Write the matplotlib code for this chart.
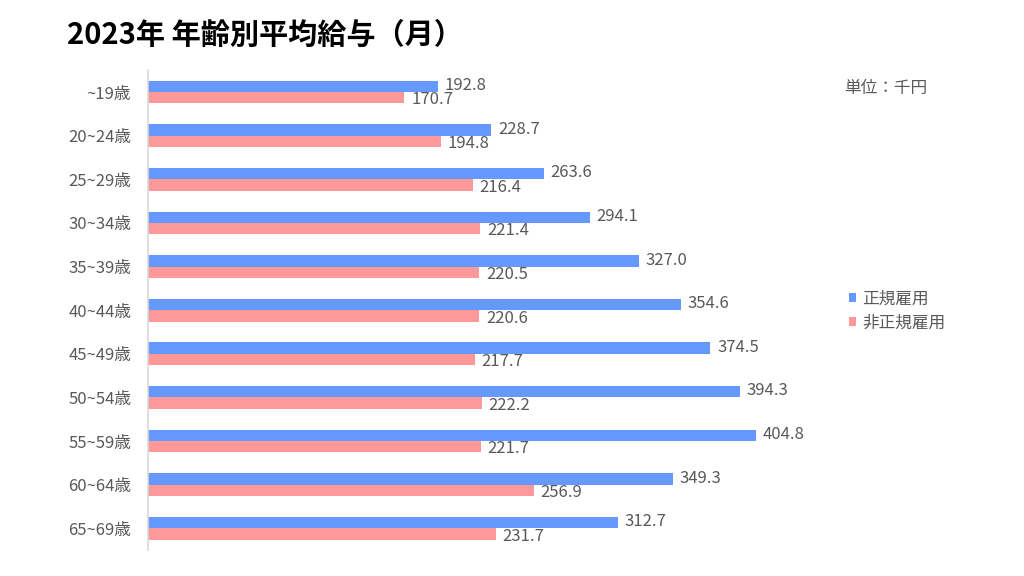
import numpy as np
import matplotlib.pyplot as plt

plt.rcParams['font.family'] = ['Noto Sans CJK JP', 'DejaVu Sans']

# Age groups and average monthly salary (thousand yen)
ages = ['~19歳', '20~24歳', '25~29歳', '30~34歳', '35~39歳', '40~44歳',
        '45~49歳', '50~54歳', '55~59歳', '60~64歳', '65~69歳']
regular = [192.8, 228.7, 263.6, 294.1, 327.0, 354.6, 374.5, 394.3, 404.8, 349.3, 312.7]
non_regular = [170.7, 194.8, 216.4, 221.4, 220.5, 220.6, 217.7, 222.2, 221.7, 256.9, 231.7]

blue = '#6699FF'
pink = '#FF9999'
gray = '#595959'

fig = plt.figure(figsize=(10.24, 5.76), dpi=100)
ax = fig.add_axes([0.1445, 0.045, 0.66, 0.833])

y = np.arange(len(ages))
h = 0.26
bars1 = ax.barh(y - h / 2, regular, height=h, color=blue, label='正規雇用')
bars2 = ax.barh(y + h / 2, non_regular, height=h, color=pink, label='非正規雇用')

# Value labels
for b, v in zip(bars1, regular):
    ax.text(v + 4.5, b.get_y() + b.get_height() / 2 - 0.02, f'{v:.1f}',
            va='center', ha='left', fontsize=12, color=gray)
for b, v in zip(bars2, non_regular):
    ax.text(v + 4.5, b.get_y() + b.get_height() / 2 + 0.05, f'{v:.1f}',
            va='center', ha='left', fontsize=12, color=gray)

ax.set_yticks(y)
ax.set_yticklabels(ages, fontsize=12, color=gray)
ax.set_ylim(10.5, -0.5)
ax.set_xlim(0, 450)
ax.set_xticks([])
ax.tick_params(axis='y', length=0, pad=12)

for s in ['top', 'right', 'bottom']:
    ax.spines[s].set_visible(False)
ax.spines['left'].set_color('#D9D9D9')
ax.spines['left'].set_linewidth(1.2)

fig.text(0.065, 0.94, '2023年 年齢別平均給与（月）', fontsize=21,
         fontweight='bold', color='black', va='center', ha='left')
fig.text(0.824, 0.847, '単位：千円', fontsize=12, color=gray, va='center', ha='left')

leg = fig.legend(loc='center left', bbox_to_anchor=(0.814, 0.46), frameon=False,
                 fontsize=12, handlelength=0.45, handleheight=0.45,
                 handletextpad=0.35, labelspacing=0.45)
for t in leg.get_texts():
    t.set_color(gray)

fig.savefig('out.png', dpi=100)
